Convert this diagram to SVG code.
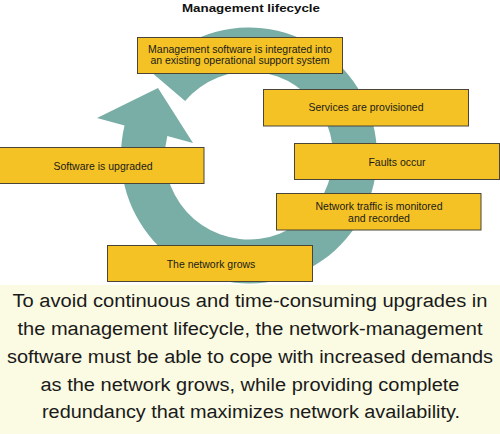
<svg xmlns="http://www.w3.org/2000/svg" width="500" height="434" viewBox="0 0 500 434">
<style>
.box{fill:#f4c224;stroke:#4a4536;stroke-width:1}
.bt{font-family:"Liberation Sans",Arial,sans-serif;font-size:10.5px;fill:#1a1a1a;text-anchor:middle}
.cap{font-family:"Liberation Sans",Arial,sans-serif;font-size:18px;fill:#1a1a1a;text-anchor:middle}
.title{font-family:"Liberation Sans",Arial,sans-serif;font-size:11.5px;font-weight:bold;fill:#111;text-anchor:middle}
</style>
<rect x="0" y="0" width="500" height="434" fill="#ffffff"/>
<rect x="0" y="285" width="500" height="149" fill="#fbfbe3"/>
<g id="connectors">
<path d="M124.53,125.62 L97,118 L158,88 L193,143 L167.32,135.89 A84,84 0 1 0 185.13,100.95 L151.67,72.38 A128,128 0 1 1 124.53,125.62 Z" fill="#79aea6"/>
</g>
<g id="title"><text class="title" x="251" y="11.5" textLength="138" lengthAdjust="spacingAndGlyphs">Management lifecycle</text></g>
<g id="n1"><rect class="box" x="137.5" y="37.5" width="205" height="36"/>
<text class="bt" x="240" y="53">Management software is integrated into</text>
<text class="bt" x="240" y="64">an existing operational support system</text></g>
<g id="n2"><rect class="box" x="263.5" y="89.5" width="205" height="36.5"/>
<text class="bt" x="366" y="111">Services are provisioned</text></g>
<g id="n3"><rect class="box" x="294.5" y="143.5" width="205" height="36"/>
<text class="bt" x="397" y="165.5">Faults occur</text></g>
<g id="n4"><rect class="box" x="-1" y="147.5" width="205" height="36"/>
<text class="bt" x="103" y="169.5">Software is upgraded</text></g>
<g id="n5"><rect class="box" x="276.5" y="193.5" width="204.5" height="36.5"/>
<text class="bt" x="379" y="210">Network traffic is monitored</text>
<text class="bt" x="379" y="221.5">and recorded</text></g>
<g id="n6"><rect class="box" x="107.5" y="245.5" width="205" height="36"/>
<text class="bt" x="211" y="267.5">The network grows</text></g>
<g id="caption">
<text class="cap" x="250" y="307" textLength="475" lengthAdjust="spacingAndGlyphs">To avoid continuous and time-consuming upgrades in</text>
<text class="cap" x="250" y="335" textLength="465" lengthAdjust="spacingAndGlyphs">the management lifecycle, the network-management</text>
<text class="cap" x="250" y="363" textLength="486" lengthAdjust="spacingAndGlyphs">software must be able to cope with increased demands</text>
<text class="cap" x="250" y="391" textLength="419" lengthAdjust="spacingAndGlyphs">as the network grows, while providing complete</text>
<text class="cap" x="251" y="418" textLength="418" lengthAdjust="spacingAndGlyphs">redundancy that maximizes network availability.</text>
</g>
</svg>
